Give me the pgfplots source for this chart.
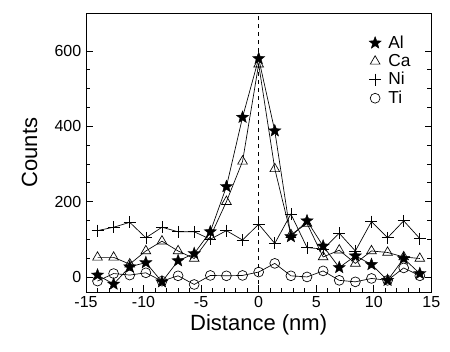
\documentclass[border=0pt]{standalone}
\usepackage{fontspec}
\setmainfont{Liberation Sans}
\usepackage{pgfplots}
\pgfplotsset{compat=1.18}
\pgfdeclareplotmark{fstar}{%
  \pgfpathmoveto{\pgfpointpolar{90}{\pgfplotmarksize}}%
  \pgfpathlineto{\pgfpointpolar{126}{0.42\pgfplotmarksize}}%
  \pgfpathlineto{\pgfpointpolar{162}{\pgfplotmarksize}}%
  \pgfpathlineto{\pgfpointpolar{198}{0.42\pgfplotmarksize}}%
  \pgfpathlineto{\pgfpointpolar{234}{\pgfplotmarksize}}%
  \pgfpathlineto{\pgfpointpolar{270}{0.42\pgfplotmarksize}}%
  \pgfpathlineto{\pgfpointpolar{306}{\pgfplotmarksize}}%
  \pgfpathlineto{\pgfpointpolar{342}{0.42\pgfplotmarksize}}%
  \pgfpathlineto{\pgfpointpolar{18}{\pgfplotmarksize}}%
  \pgfpathlineto{\pgfpointpolar{54}{0.42\pgfplotmarksize}}%
  \pgfpathclose
  \pgfusepathqfillstroke}
\begin{document}
\begin{tikzpicture}
\begin{axis}[
  at={(0pt,0pt)}, anchor=south west,
  scale only axis, width=259pt, height=209pt,
  xmin=-15, xmax=15, ymin=-40, ymax=700,
  xtick={-15,-10,-5,0,5,10,15},
  ytick={0,200,400,600},
  minor x tick num=4, minor y tick num=3,
  tick align=inside,
  xtick pos=bottom, ytick pos=both,
  major tick length=5pt, minor tick length=3pt,
  every tick/.style={black, line width=0.5pt},
  axis line style={line width=0.7pt},
  /pgf/number format/assume math mode=true,
  tick label style={font=\fontsize{12}{14}\selectfont},
  xlabel={Distance (nm)}, ylabel={Counts},
  label style={font=\fontsize{16.5}{19}\selectfont},
  xlabel style={yshift=2pt},
  ylabel style={yshift=6pt},
  legend style={draw=none, fill=none, at={(0.815,0.935)}, anchor=north west,
    font=\fontsize{13}{15}\selectfont, row sep=-1pt, inner sep=1pt},
  legend cell align=left,
  legend image code/.code={\draw[#1, only marks] plot coordinates {(0.15cm,0cm)}; \path (0.42cm,0cm);},
  every axis plot/.append style={black, line width=0.5pt},
]
\addplot[forget plot, dashed, line width=0.6pt] coordinates {(0,-40) (0,700)};
\addplot[mark=fstar, mark size=4.8pt, mark options={fill=black, line width=0.3pt}] coordinates {
(-14,5) (-12.6,-19) (-11.2,27) (-9.8,38) (-8.4,-13) (-7,43) (-5.6,62) (-4.2,120) (-2.8,240) (-1.4,424) (0,580)
(1.4,388) (2.8,107) (4.2,149) (5.6,82) (7,25) (8.4,56) (9.8,33) (11.2,-9) (12.6,49) (14,9)};
\addlegendentry{Al}
\addplot[mark=triangle, mark size=4.2pt, mark options={fill=white}] coordinates {
(-14,52) (-12.6,52) (-11.2,34) (-9.8,69) (-8.4,95) (-7,69) (-5.6,49) (-4.2,107) (-2.8,200) (-1.4,307) (0,565)
(1.4,287) (2.8,112) (4.2,142) (5.6,53) (7,71) (8.4,36) (9.8,69) (11.2,65) (12.6,53) (14,49)};
\addlegendentry{Ca}
\addplot[mark=+, mark size=4.5pt] coordinates {
(-14,123) (-12.6,132) (-11.2,145) (-9.8,104) (-8.4,132) (-7,120) (-5.6,120) (-4.2,100) (-2.8,123) (-1.4,98) (0,140)
(1.4,89) (2.8,167) (4.2,78) (5.6,74) (7,116) (8.4,69) (9.8,147) (11.2,104) (12.6,149) (14,102)};
\addlegendentry{Ni}
\addplot[mark=o, mark size=3.7pt, mark options={fill=white}] coordinates {
(-14,-11) (-12.6,9) (-11.2,5) (-9.8,11) (-8.4,-11) (-7,3) (-5.6,-20) (-4.2,4) (-2.8,3) (-1.4,4) (0,13)
(1.4,36) (2.8,3) (4.2,0) (5.6,16) (7,-9) (8.4,-13) (9.8,-4) (11.2,-9) (12.6,24) (14,3)};
\addlegendentry{Ti}
\end{axis}
\path[use as bounding box] (-64.5pt,-44.25pt) rectangle (273pt,219pt);
\end{tikzpicture}
\end{document}
